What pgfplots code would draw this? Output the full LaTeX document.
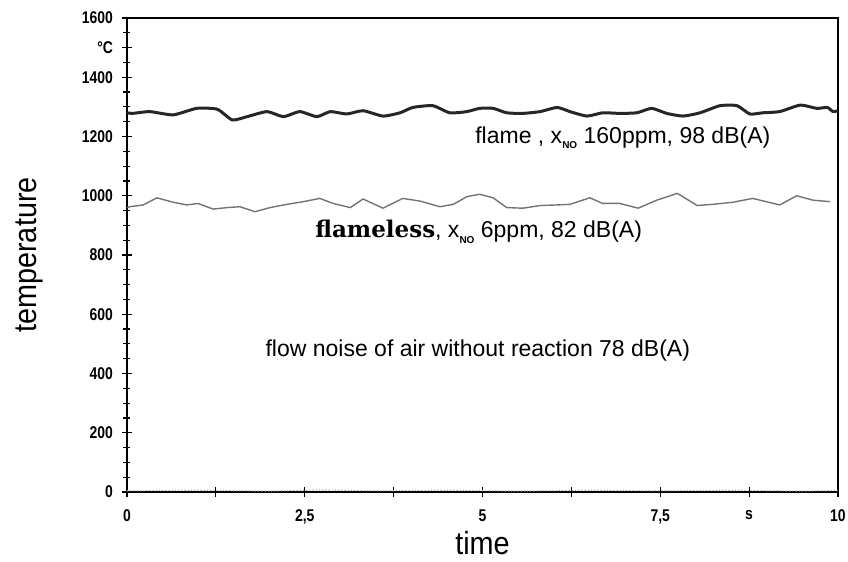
\documentclass[border=0pt]{standalone}
\usepackage{fontspec}
\setmainfont{Liberation Sans}
\newfontfamily\tickfont{Liberation Sans}[FakeStretch=0.82]
\newfontfamily\labfont{Liberation Sans}[FakeStretch=0.9]
\newfontfamily\slabfont{DejaVu Serif}
\usepackage{pgfplots}
\pgfplotsset{compat=1.18}

\newcommand{\xno}{x\raisebox{-0.45ex}{\fontsize{5}{6}\selectfont\bfseries NO}}

\pgfplotstableread{
t T
0.00 1280
0.08 1278
0.32 1284
0.65 1273
0.98 1295
1.27 1292
1.48 1256
1.69 1267
1.97 1284
2.20 1267
2.43 1284
2.67 1267
2.86 1284
3.09 1276
3.32 1287
3.60 1269
3.84 1280
4.02 1298
4.30 1304
4.54 1280
4.78 1284
4.96 1295
5.15 1295
5.34 1280
5.57 1278
5.81 1284
6.05 1298
6.23 1284
6.47 1269
6.69 1280
6.93 1278
7.17 1280
7.38 1295
7.59 1278
7.82 1269
8.06 1280
8.34 1304
8.58 1304
8.76 1276
8.94 1280
9.18 1284
9.47 1306
9.70 1295
9.85 1298
9.93 1284
10.00 1287
}\flame

\pgfplotstableread{
t T
0.00 960
0.04 963
0.23 969
0.42 993
0.65 978
0.84 969
1.00 974
1.21 955
1.41 960
1.59 963
1.80 946
2.01 960
2.25 971
2.48 980
2.71 991
2.90 974
3.14 960
3.32 989
3.60 958
3.88 991
4.12 982
4.40 963
4.59 971
4.78 997
4.96 1005
5.15 993
5.34 960
5.57 958
5.81 967
6.05 969
6.23 971
6.51 993
6.69 974
6.93 974
7.19 958
7.45 985
7.74 1008
8.02 967
8.24 971
8.52 978
8.80 991
9.18 969
9.42 1000
9.65 985
9.89 980
}\flameless

\pgfplotstableread{
t T
0.00 4
1.00 6
2.00 3
2.70 7
3.50 4
4.50 6
5.50 3
6.50 6
7.50 4
8.50 6
9.50 3
10.00 5
}\air

\begin{document}
\begin{tikzpicture}
\useasboundingbox (-63.5pt,-35pt) rectangle (360.5pt,246pt);
\begin{axis}[
    name=ax,
    at={(0,0)}, anchor=south west,
    width=355.5pt, height=237pt,
    scale only axis,
    xmin=0, xmax=10,
    ymin=0, ymax=1600,
    axis line style={black, line width=0.8pt},
    xtick={0,1.25,...,10},
    xticklabels={0,,{2,5},,5,,{7,5},s,10},
    ytick={0,200,400,600,800,1000,1200,1400,1500,1600},
    yticklabels={0,200,400,600,800,1000,1200,1400,{°C},1600},
    minor ytick={50,100,...,1550},
    tick align=center,
    xtick pos=bottom, ytick pos=left,
    major tick length=5pt,
    minor tick length=3.5pt,
    every tick/.style={black, line width=0.6pt},
    tick label style={font=\tickfont\bfseries\fontsize{8.5}{9}\selectfont},
    /pgf/number format/assume math mode=true,
    xticklabel style={yshift=-3pt},
    yticklabel style={xshift=-1pt},
    xlabel={time},
    ylabel={temperature},
    xlabel style={font=\labfont\fontsize{16}{18}\selectfont, inner sep=1pt, yshift=1pt},
    ylabel style={font=\labfont\fontsize{16}{18}\selectfont, yshift=12.5pt},
]
\addplot[black!35, line width=0.6pt, densely dotted] table[x=t, y=T] {\air};
\addplot[black!85, line width=1.5pt, smooth, tension=0.35, line join=round] table[x=t, y=T] {\flame};
\addplot[black!55, line width=0.7pt, line join=round] table[x=t, y=T] {\flameless};

\node[anchor=west, font=\fontsize{11.5}{13}\selectfont] at (axis cs:4.80,1195)
    {flame , \xno{} 160ppm, 98 dB(A)};
\node[anchor=west, font=\fontsize{11.5}{13}\selectfont] at (axis cs:2.55,878)
    {{\slabfont\bfseries\fontsize{11.5}{13}\selectfont flameless}, \xno{} 6ppm, 82 dB(A)};
\node[anchor=west, font=\fontsize{11.5}{13}\selectfont] at (axis cs:1.85,479)
    {flow noise of air without reaction 78 dB(A)};
\end{axis}
\end{tikzpicture}
\end{document}
